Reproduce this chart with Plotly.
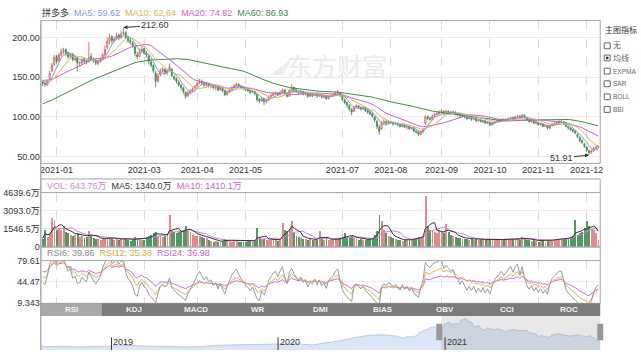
import plotly.graph_objects as go
import pandas as pd
import numpy as np

W, H = 641, 355
def px(x): return x / W
def py(y): return 1 - y / H

HOL = ['2020-11-26', '2020-12-25', '2021-01-01', '2021-01-18', '2021-02-15', '2021-04-02',
       '2021-05-31', '2021-07-05', '2021-09-06', '2021-11-25']

# ---- daily OHLC (USD), 2020-12-23 .. 2021-12-08 ----
open_ = [144,142,140,147,158,166,176,171,178,183,
         185,181,176,179,172,174,167,168,173,171,
         170,176,172,171,167,170,173,178,187,196,
         201,196,199,203,200,205,206,200,196,193,
         188,178,176,183,186,180,177,169,165,155,
         145,153,158,160,155,159,160,151,148,144,
         140,136,131,127,130,133,136,139,143,145,
         143,140,142,139,140,137,138,134,136,133,
         128,131,134,137,139,141,139,137,136,134,
         133,131,132,128,122,120,123,119,121,125,
         127,129,130,128,131,134,130,126,133,137,
         134,132,130,132,129,130,126,128,127,129,
         126,128,125,126,123,126,127,128,130,130,
         126,121,118,114,109,107,112,114,112,110,
         111,108,106,104,100,94,87,85,92,94,
         92,94,93,91,92,90,88,90,87,88,
         85,86,82,81,78,81,92,100,98,97,
         101,103,104,106,107,104,107,106,105,106,
         104,103,101,102,100,98,99,97,98,95,
         96,94,95,92,93,90,92,94,95,96,
         97,96,97,98,99,98,100,101,99,102,
         99,96,94,95,92,93,90,91,88,89,
         86,89,91,92,93,94,94,92,88,86,
         84,82,78,74,70,66,62,57,55,57,
         60,62]
high = [146,144,147,158,168,178,178,180,186,187,
        186,182,180,180,176,175,170,174,175,172,
        194,180,175,173,172,175,180,190,200,205,
        203,201,206,205,208,212.6,208,202,199,195,
        190,182,186,189,187,183,178,172,166,158,
        155,161,163,161,160,167,161,153,150,146,
        141,138,132,132,135,137,140,144,148,147,
        144,143,142,141,140,139,138,137,136,133,
        132,135,138,141,143,142,140,138,137,135,
        134,134,133,129,124,125,124,123,127,129,
        131,132,131,133,136,135,131,135,141,138,
        135,133,133,133,131,131,129,129,130,130,
        129,129,127,127,127,129,130,132,134,131,
        127,123,119,116,111,114,116,115,113,113,
        112,109,107,105,101,96,90,95,97,96,
        96,95,94,94,93,91,91,91,89,89,
        87,87,83,82,83,86,102,102,100,103,
        105,106,108,110,108,109,108,107,108,107,
        105,104,104,103,101,101,100,99,99,97,
        97,96,96,94,94,93,95,96,97,98,
        98,98,99,100,100,101,102,102,104,103,
        100,97,96,96,94,94,92,92,90,90,
        90,92,93,95,96,96,95,93,89,87,
        85,83,79,76,72,67,63,59,59,62,
        64,64]
low = [139,138,139,146,156,164,167,169,176,179,
       177,173,174,170,170,157,163,166,168,166,
       168,171,168,165,165,168,171,176,185,192,
       193,194,197,197,198,203,198,193,191,187,
       176,172,175,180,178,175,166,162,155,137,
       143,151,156,153,153,157,150,146,142,138,
       134,129,123,125,128,131,134,137,141,141,
       138,138,137,136,135,134,132,133,131,126,
       127,130,133,136,138,137,135,134,132,131,
       129,130,127,119,117,119,115,117,120,124,
       126,128,126,127,130,129,124,125,132,132,
       130,128,129,127,127,124,125,125,126,124,
       125,123,123,121,122,125,126,127,129,125,
       120,116,112,107,102,106,111,110,108,109,
       106,104,102,99,93,85,78,84,91,90,
       91,91,89,90,88,87,87,86,84,84,
       84,81,79,76,77,80,90,96,95,96,
       100,102,103,105,102,103,104,103,104,102,
       101,99,100,98,96,97,95,96,94,94,
       93,92,91,91,88,89,91,93,94,95,
       94,95,96,97,96,97,99,98,98,98,
       95,93,93,91,91,89,89,87,87,84,
       85,88,90,91,92,92,90,87,84,82,
       80,78,73,68,66,61,56,51.91,54,56,
       59,60]
close = [142,141,145,155,165,175,170,178,182,184,
         180,176,179,172,174,168,168,172,170,169,
         175,173,171,168,170,172,178,185,195,200,
         196,198,202,200,204,206,200,196,194,190,
         180,176,182,185,180,178,170,165,158,145,
         152,158,160,156,158,163,152,148,145,140,
         137,132,126,130,133,135,138,142,145,143,
         140,142,139,140,137,138,134,136,133,128,
         131,134,137,139,141,139,137,136,134,133,
         131,132,129,122,120,123,119,121,125,127,
         129,130,128,131,134,130,126,133,137,134,
         132,130,132,129,130,126,128,127,129,126,
         128,125,126,123,126,127,128,130,131,127,
         122,118,115,110,106,112,114,112,110,111,
         108,106,104,101,96,88,82,92,94,92,
         94,93,91,92,90,88,90,87,88,85,
         86,82,81,78,81,84,100,98,97,101,
         103,104,106,107,104,107,106,105,106,104,
         103,101,102,100,98,99,97,98,95,96,
         94,95,92,93,90,92,94,95,96,97,
         96,97,98,99,98,100,101,99,102,99,
         96,94,95,92,93,90,91,88,89,86,
         89,91,92,93,94,94,92,88,86,84,
         82,80,75,70,68,63,58,55,57,60,
         62,63]
# volume, in 万 shares
volume = [750,1500,900,1200,2530,2390,1500,1700,1450,1830,
          1300,1200,1100,1000,1100,1200,900,950,850,900,
          1400,1000,800,750,700,650,700,750,900,850,
          700,650,700,600,750,800,700,600,550,600,
          900,800,700,650,600,900,1000,1100,1200,1300,
          1000,1100,900,1000,1100,2810,1400,1300,1200,1350,
          1400,1500,1830,1400,1300,1100,1000,950,1000,900,
          850,800,600,550,500,520,480,500,550,700,
          600,550,500,520,600,500,480,450,500,520,
          550,500,600,1690,800,700,750,650,600,650,
          700,600,550,600,2100,1500,1400,1600,2250,1200,
          1000,900,800,750,700,650,700,600,650,600,
          1400,700,650,700,650,600,650,700,750,800,
          900,1250,850,900,950,800,700,650,700,600,
          650,700,750,800,1100,1400,2810,2250,1500,1200,
          1000,900,800,700,650,600,550,600,650,600,
          700,750,800,900,850,1000,4410,1830,1500,1400,
          1300,1200,1400,1300,1200,1970,1300,1100,1000,900,
          850,800,750,700,750,650,700,650,700,600,
          650,700,600,650,700,600,650,700,600,650,
          600,700,650,600,700,750,800,650,900,700,
          650,600,550,600,550,500,600,550,500,600,
          650,600,650,700,650,700,750,800,850,900,
          1000,2390,1100,1200,1300,1700,2250,1800,1600,1500,
          1200,643.76]
# closes before the visible window (feed the moving averages / RSI)
prior_close = [78,80,79,82,84,83,85,87,86,88,85,84,86,88,90,89,87,86,88,90,
               92,95,98,100,104,110,115,118,120,117,121,125,124,128,130,127,132,135,133,136,
               140,143,146,148,150,147,149,152,150,148,146,149,151,147,144,141,139,143,145]
# navigator: long-history closes before the prior window
nav_pre_dates = ['2018-07-26','2018-08-15','2018-09-14','2018-10-15','2018-11-15','2018-12-14',
                 '2019-01-15','2019-02-15','2019-03-15','2019-04-15','2019-05-15','2019-06-14',
                 '2019-07-15','2019-08-15','2019-09-16','2019-10-15','2019-11-15','2019-12-16',
                 '2020-01-15','2020-02-14','2020-03-16','2020-04-15','2020-05-15','2020-06-15',
                 '2020-07-15','2020-08-14','2020-09-15']
nav_pre_vals = [26,22,24,20,22,23,26,30,26,24,21,20,22,30,33,36,38,38,38,40,33,45,60,80,95,100,92]

label_months = ['2021-01','2021-03','2021-04','2021-05','2021-07','2021-08','2021-09','2021-10','2021-11','2021-12']
price_ticks = [50, 100, 150, 200]
vol_ticks = [0, 1546.5, 3093.0, 4639.6]
vol_ticktext = ['0', '1546.5万', '3093.0万', '4639.6万']
rsi_ticks = [9.343, 44.47, 79.61]
tabs = ['RSI', 'KDJ', 'MACD', 'WR', 'DMI', 'BIAS', 'OBV', 'CCI', 'ROC']
side_items = ['无', '均线', 'EXPMA', 'SAR', 'BOLL', 'BBI']

FONT = 'Liberation Sans, Arial, Noto Sans CJK SC, sans-serif'
RED, GREEN = '#e06060', '#3f9452'
C_MA5, C_MA10, C_MA20, C_MA60 = '#7f9bd8', '#e0b44a', '#c963c9', '#3f8a3f'

n = min(len(close), len(open_), len(high), len(low), len(volume))
dates = pd.bdate_range('2020-12-23', '2021-12-08', freq='C', holidays=HOL)
dates = list(dates[:n])
idx = list(range(n))

month_first = {}
for i, d in enumerate(dates):
    k = d.strftime('%Y-%m')
    if k not in month_first:
        month_first[k] = i
tickvals = [month_first[m] for m in label_months if m in month_first]
ticktext = [m for m in label_months if m in month_first]

full = prior_close + close[:n]
P = len(prior_close)
def ma(k):
    return pd.Series(full).rolling(k).mean().iloc[P:].tolist()

def sma_cn(x, k):
    out = []
    y = x[0]
    for v in x:
        y = (v + (k - 1) * y) / k
        out.append(y)
    return np.array(out)

diff = np.diff(np.array(full, dtype=float), prepend=full[0])
up = np.maximum(diff, 0)
ab = np.abs(diff)
def rsi(k):
    a = sma_cn(up, k); b = sma_cn(ab, k)
    r = np.where(b > 0, a / np.where(b > 0, b, 1) * 100, 50)
    return r[P:].tolist()

vs = pd.Series(volume[:n])
vma5 = vs.rolling(5, min_periods=1).mean().tolist()
vma10 = vs.rolling(10, min_periods=1).mean().tolist()
vcolors = ['#e58a8a' if close[i] >= open_[i] else '#4f9a62' for i in idx]

prior_dates = list(pd.bdate_range(end='2020-12-22', periods=P, freq='C', holidays=HOL))
nav_x = [pd.Timestamp(d) for d in nav_pre_dates] + prior_dates + dates
nav_y = nav_pre_vals + prior_close + close[:n]

fig = go.Figure()
fig.add_trace(go.Candlestick(x=idx, open=open_[:n], high=high[:n], low=low[:n], close=close[:n],
                             xaxis='x', yaxis='y', whiskerwidth=0,
                             increasing=dict(line=dict(color=RED, width=0.9), fillcolor='rgba(255,255,255,0)'),
                             decreasing=dict(line=dict(color=GREEN, width=0.9), fillcolor=GREEN),
                             hoverinfo='skip', showlegend=False))
for k, c in [(60, C_MA60), (20, C_MA20), (10, C_MA10), (5, C_MA5)]:
    fig.add_trace(go.Scatter(x=idx, y=ma(k), mode='lines', line=dict(color=c, width=1),
                             xaxis='x', yaxis='y', hoverinfo='skip', showlegend=False))
fig.add_trace(go.Bar(x=idx, y=volume[:n], marker=dict(color=vcolors, line=dict(width=0)), width=0.4,
                     xaxis='x2', yaxis='y2', hoverinfo='skip', showlegend=False))
fig.add_trace(go.Scatter(x=idx, y=vma10, mode='lines', line=dict(color='#d47cd4', width=1),
                         xaxis='x2', yaxis='y2', hoverinfo='skip', showlegend=False))
fig.add_trace(go.Scatter(x=idx, y=vma5, mode='lines', line=dict(color='#333333', width=1),
                         xaxis='x2', yaxis='y2', hoverinfo='skip', showlegend=False))
for k, c in [(24, '#d070d0'), (12, '#e2b65a'), (6, '#9a9a9a')]:
    fig.add_trace(go.Scatter(x=idx, y=rsi(k), mode='lines', line=dict(color=c, width=1),
                             xaxis='x3', yaxis='y3', hoverinfo='skip', showlegend=False))
fig.add_trace(go.Scatter(x=nav_x, y=nav_y, mode='lines', fill='tozeroy', fillcolor='#dbe7f4',
                         line=dict(color='#b3cbe6', width=1), xaxis='x4', yaxis='y4',
                         hoverinfo='skip', showlegend=False))

xdom = [px(40), px(603)]
xr = [-0.86, n - 1 + 0.86]
common_x = dict(domain=xdom, range=xr, tickmode='array', tickvals=tickvals, ticktext=ticktext,
                showgrid=True, gridcolor='#dcdcdc', griddash='dash', gridwidth=1, zeroline=False,
                showline=False, ticks='', fixedrange=True)
tf = dict(size=9, color='#333', family=FONT)
fig.update_layout(
    width=W, height=H, margin=dict(l=0, r=0, t=0, b=0),
    paper_bgcolor='white', plot_bgcolor='white', showlegend=False,
    font=dict(family=FONT, size=9, color='#333'),
    xaxis=dict(common_x, anchor='y', tickfont=tf, rangeslider=dict(visible=False)),
    xaxis2=dict(common_x, anchor='y2', matches='x', showticklabels=False),
    xaxis3=dict(common_x, anchor='y3', matches='x', showticklabels=False),
    xaxis4=dict(domain=xdom, anchor='y4', type='date', range=['2018-07-30', '2021-12-07'],
                showticklabels=False, showgrid=False, zeroline=False, showline=False, fixedrange=True),
    yaxis=dict(domain=[py(163), py(16)], range=[41.4, 221.3], tickmode='array', tickvals=price_ticks,
               ticktext=['%.2f' % v for v in price_ticks], tickfont=tf, gridcolor='#ececec',
               zeroline=False, showline=False, ticks='', anchor='x', fixedrange=True),
    yaxis2=dict(domain=[py(249), py(193)], range=[0, 4660], tickmode='array', tickvals=vol_ticks,
                ticktext=vol_ticktext, tickfont=tf, gridcolor='#ececec', zeroline=False,
                showline=False, ticks='', anchor='x2', fixedrange=True),
    yaxis3=dict(domain=[py(307), py(263)], range=[9.2, 79.75], tickmode='array', tickvals=rsi_ticks,
                ticktext=['9.343', '44.47', '79.61'], tickfont=tf, gridcolor='#ececec', zeroline=False,
                showline=False, ticks='', anchor='x3', fixedrange=True),
    yaxis4=dict(domain=[0, py(320)], range=[0, 224], visible=False, fixedrange=True),
    bargap=0,
)

shapes = []
def rect(x0, y0, x1, y1, line='#a6a6a6', fill=None, lw=1, layer='above'):
    d = dict(type='rect', xref='paper', yref='paper', x0=px(x0), x1=px(x1), y0=py(y1), y1=py(y0),
             line=dict(color=line, width=lw), layer=layer)
    if fill:
        d['fillcolor'] = fill
    if line is None:
        d['line'] = dict(width=0)
    return d
def hline(x0, x1, y, color='#a6a6a6', lw=1):
    return dict(type='line', xref='paper', yref='paper', x0=px(x0), x1=px(x1), y0=py(y), y1=py(y),
                line=dict(color=color, width=lw))
def vline(x, y0, y1, color='#a6a6a6', lw=1):
    return dict(type='line', xref='paper', yref='paper', x0=px(x), x1=px(x), y0=py(y0), y1=py(y1),
                line=dict(color=color, width=lw))

# watermark logo
lp = [(271, 72), (293, 55), (284, 72)]
path = 'M ' + ' L '.join('%f,%f' % (px(a), py(b)) for a, b in lp) + ' Z'
shapes.append(dict(type='path', xref='paper', yref='paper', path=path, fillcolor='#ececec',
                   line=dict(width=0), layer='below'))
shapes.append(rect(40, 16, 603, 163))
shapes.append(rect(40, 179, 603, 249))
shapes.append(hline(40, 603, 193))
shapes.append(rect(40, 249, 603, 307))
shapes.append(hline(40, 603, 263))
shapes.append(vline(40, 16, 355, '#b0b0b0', 1.5))
# tab bar
shapes.append(rect(40, 307, 603, 320, line=None, fill='#7b7b7b'))
shapes.append(rect(40, 307, 101.5, 320, line=None, fill='#a9a9a9'))
# navigator selection + handles
shapes.append(rect(443, 320, 603, 355, line=None, fill='rgba(150,150,150,0.22)'))
shapes.append(rect(438, 328, 444, 345, line=None, fill='#999999'))
shapes.append(rect(600, 328, 606, 345, line=None, fill='#999999'))
# navigator year ticks
for yr in ['2019', '2020', '2021']:
    shapes.append(dict(type='line', xref='x4', yref='paper', x0=yr + '-01-01', x1=yr + '-01-01',
                       y0=py(355), y1=py(342), line=dict(color='#333', width=1)))
# side checkboxes
side_y = [42, 54.5, 68, 81, 94.5, 107.5]
for i, yy in enumerate(side_y):
    shapes.append(rect(607, yy - 3, 613, yy + 3, line='#666', fill='white'))
    if i == 1:
        shapes.append(rect(608.8, yy - 1.3, 611.2, yy + 1.3, line=None, fill='#333'))

ann = []
def text(x, y, t, size=9, color='#333', anchor='left', **kw):
    d = dict(x=px(x), y=py(y), xref='paper', yref='paper', text=t, showarrow=False,
             xanchor=anchor, yanchor='middle', font=dict(size=size, color=color, family=FONT))
    d.update(kw)
    return d

ann.append(text(39, 8, '拼多多&nbsp;&nbsp;<span style="color:%s">MA5: 59.62</span>&nbsp;&nbsp;'
                '<span style="color:%s">MA10: 62.64</span>&nbsp;&nbsp;'
                '<span style="color:%s">MA20: 74.82</span>&nbsp;&nbsp;'
                '<span style="color:%s">MA60: 86.93</span>' % (C_MA5, C_MA10, C_MA20, C_MA60)))
ann.append(text(44, 186, '<span style="color:#d18ad1">VOL: 643.76万</span>&nbsp;&nbsp;'
                '<span style="color:#333">MA5: 1340.0万</span>&nbsp;&nbsp;'
                '<span style="color:#c75ec7">MA10: 1410.1万</span>'))
ann.append(text(44, 255.5, '<span style="color:#8a8a8a">RSI6: 39.86</span>&nbsp;&nbsp;'
                '<span style="color:#d9aa45">RSI12: 35.38</span>&nbsp;&nbsp;'
                '<span style="color:#c75ec7">RSI24: 36.98</span>'))
ann.append(text(338, 64, '东方财富', size=25, color='#eaeaea',
                anchor='center'))
ann.append(text(605.5, 26, '主图指标', size=8, color='#333'))
for lbl, yy in zip(side_items, side_y):
    ann.append(text(614, yy, lbl, size=6.5 if len(lbl) > 2 else 8, color='#666'))
tab_w = 563 / len(tabs)
for i, t in enumerate(tabs):
    ann.append(text(40 + tab_w * (i + 0.5), 313.5, '<b>' + t + '</b>', size=8, color='#f2f2f2',
                    anchor='center'))
for yr in ['2019', '2020', '2021']:
    ann.append(dict(x=yr + '-01-01', y=py(347), xref='x4', yref='paper', text=yr, showarrow=False,
                    xanchor='left', yanchor='middle', xshift=0,
                    font=dict(size=9, color='#333', family=FONT)))
hi_i = int(np.argmax(high[:n])); lo_i = int(np.argmin(low[:n]))
ann.append(dict(x=hi_i, y=high[hi_i], xref='x', yref='y', text='%.2f' % high[hi_i], showarrow=True,
                ax=32, ay=-2, arrowhead=2, arrowsize=0.8, arrowwidth=1, arrowcolor='#333',
                font=dict(size=9, color='#333', family=FONT)))
ann.append(dict(x=lo_i, y=low[lo_i], xref='x', yref='y', text='%.2f' % low[lo_i], showarrow=True,
                ax=-28, ay=3, arrowhead=2, arrowsize=0.8, arrowwidth=1, arrowcolor='#333',
                font=dict(size=9, color='#333', family=FONT)))

fig.update_layout(shapes=shapes, annotations=ann)
fig.write_html('out.html')
